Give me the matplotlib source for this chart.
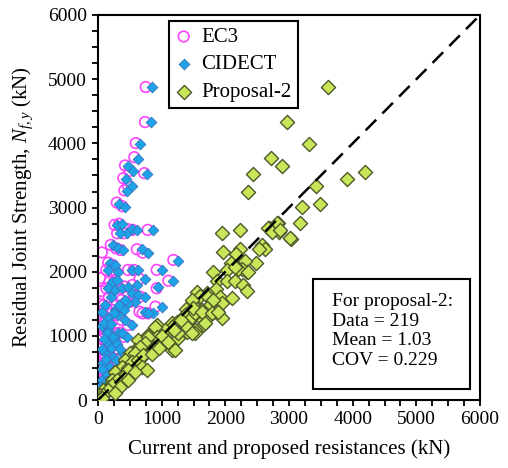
import numpy as np
import matplotlib
matplotlib.use("Agg")
import matplotlib.pyplot as plt
from matplotlib.ticker import MultipleLocator
from matplotlib.patches import Rectangle

plt.rcParams['font.family'] = ['Liberation Serif', 'DejaVu Serif']
plt.rcParams['mathtext.fontset'] = 'custom'
plt.rcParams['mathtext.rm'] = 'Liberation Serif'
plt.rcParams['mathtext.it'] = 'Liberation Serif:italic'

# (resistance, test strength) pairs in kN
cidect_pts = [
    (843, 4872), (832, 4326), (659, 3988), (633, 3760), (476, 3640), (545, 3562),
    (774, 3526), (440, 3442), (529, 3338), (450, 3260), (330, 3053), (424, 3016),
    (294, 2730), (372, 2746), (450, 2600), (346, 2600), (529, 2663), (608, 2652),
    (868, 2652), (240, 2418), (319, 2366), (397, 2340), (686, 2351), (790, 2298),
    (1261, 2168), (188, 2142), (267, 2106), (162, 2028), (319, 2002), (529, 2028),
    (633, 2028), (1000, 2028), (1182, 1860), (738, 1890), (215, 1846), (294, 1872),
    (162, 1742), (267, 1716), (372, 1742), (476, 1768), (608, 1794), (529, 1664),
    (633, 1638), (738, 1612), (947, 1768), (1000, 1456), (868, 1352), (738, 1378),
    (790, 1352), (581, 1534), (476, 1508), (267, 1404), (319, 1326), (424, 1248),
    (529, 1170), (162, 1274), (162, 1092), (319, 1040), (450, 988), (267, 936),
    (162, 884), (110, 728), (240, 676), (372, 728), (83, 572), (188, 520),
    (136, 390), (58, 312), (31, 208), (60, 1150), (100, 1200), (210, 1180),
    (140, 1050), (230, 980), (90, 950), (200, 820), (60, 800), (300, 880),
    (340, 800), (130, 640), (280, 620), (60, 480), (230, 460), (120, 300),
    (180, 330), (90, 180), (40, 120), (20, 60), (250, 1350), (380, 1050),
    (400, 1400), (110, 1480), (330, 1480), (60, 1380), (420, 1560), (200, 1600),
]
ec3_pts = [
    (749, 4878), (738, 4332), (592, 4004), (570, 3785), (424, 3656), (490, 3570),
    (727, 3536), (397, 3458), (470, 3340), (413, 3267), (294, 3078), (380, 3020),
    (260, 2730), (330, 2746), (400, 2600), (300, 2600), (470, 2663), (540, 2652),
    (780, 2652), (200, 2418), (280, 2366), (350, 2340), (610, 2351), (700, 2298),
    (1182, 2184), (160, 2142), (230, 2106), (130, 2028), (280, 2002), (470, 2028),
    (560, 2028), (921, 2030), (1104, 1860), (650, 1890), (180, 1846), (260, 1872),
    (130, 1742), (230, 1716), (330, 1742), (420, 1768), (540, 1794), (470, 1664),
    (560, 1638), (660, 1612), (921, 1742), (900, 1456), (780, 1352), (650, 1378),
    (700, 1352), (510, 1534), (420, 1508), (230, 1404), (280, 1326), (370, 1248),
    (470, 1170), (130, 1274), (130, 1092), (280, 1040), (400, 988), (230, 936),
    (130, 884), (90, 728), (200, 676), (330, 728), (60, 572), (160, 520),
    (110, 390), (40, 312), (20, 208), (40, 1150), (80, 1200), (180, 1180),
    (110, 1050), (200, 980), (70, 950), (170, 820), (40, 800), (260, 880),
    (300, 800), (110, 640), (240, 620), (40, 480), (200, 460), (100, 300),
    (150, 330), (70, 180), (25, 120), (10, 60), (210, 1350), (330, 1050),
    (350, 1400), (90, 1480), (290, 1480), (40, 1380), (370, 1560), (170, 1600),
    (20, 1000), (30, 650), (15, 400), (10, 250), (50, 1700), (25, 1500),
    (15, 850), (20, 1250), (10, 550), (5, 150), (30, 1900), (60, 2300),
]
prop2_pts = [
    (3615, 4872), (2962, 4332), (3318, 3989), (2721, 3771), (2884, 3646), (2428, 3515),
    (2360, 3250), (3904, 3448), (4187, 3557), (3428, 3343), (3198, 3016), (3485, 3053),
    (3171, 2761), (3030, 2507), (2820, 2756), (2690, 2678), (2842, 2626), (1942, 2605),
    (2229, 2652), (1968, 2304), (2229, 2356), (2167, 2278), (2570, 2418), (2622, 2356),
    (2532, 2356), (2480, 2132), (2308, 2173), (2088, 2132), (2020, 2028), (2334, 2001),
    (1800, 2001), (2260, 2050), (2674, 2678), (2805, 2756), (2727, 2626), (2857, 2652),
    (3014, 2522), (2203, 2039), (2360, 2001), (2151, 2080), (1863, 1851), (2020, 1851),
    (2151, 1851), (2281, 1794), (2334, 1705), (1848, 1732), (1707, 1674), (1550, 1690),
    (1601, 1622), (1732, 1612), (1915, 1602), (2099, 1586), (1942, 1508), (1810, 1560),
    (1863, 1393), (1707, 1430), (1523, 1455), (1382, 1415), (1496, 1300), (1601, 1300),
    (1732, 1300), (1942, 1274), (1392, 1274), (1653, 1170), (1392, 1118), (1523, 1092),
    (1167, 780), (921, 1170), (1157, 1196), (790, 1014), (1078, 1065), (1366, 1326),
    (1470, 1300), (1523, 1352), (1628, 1404), (1287, 1143), (1392, 1065), (1261, 962),
    (1523, 1040), (633, 936), (711, 831), (581, 780), (502, 728), (424, 624),
    (581, 598), (686, 676), (372, 520), (476, 494), (267, 442), (345, 338),
    (215, 312), (162, 208), (83, 156), (31, 78), (58, 52), (1471, 1560),
    (1496, 1430), (1628, 1378), (1785, 1352), (1889, 1378), (1680, 1196), (1235, 1222),
    (1392, 1143), (1471, 1040), (1157, 1143), (1209, 780), (1261, 1040), (1052, 1092),
    (895, 1143), (921, 988), (790, 988), (738, 884), (868, 806), (1000, 910),
    (659, 831), (581, 728), (529, 598), (633, 624), (711, 702), (476, 468),
    (397, 364), (294, 312), (215, 234), (162, 156), (83, 78), (58, 27),
    (686, 520), (764, 468), (581, 442), (476, 312), (345, 208), (267, 104),
    (1000, 1000), (1100, 900), (850, 720), (950, 820), (1300, 1250), (1200, 1100),
]

ec3_x, ec3_y = np.array(ec3_pts).T
cid_x, cid_y = np.array(cidect_pts).T
p2_x, p2_y = np.array(prop2_pts).T

fig = plt.figure(figsize=(5.08, 4.68), dpi=100)
ax = fig.add_axes([0.193, 0.145, 0.752, 0.823])

ax.scatter(ec3_x, ec3_y, s=58, marker='o', facecolors='none',
           edgecolors='#FF44FF', linewidths=1.2, label='EC3', zorder=2)
ax.scatter(cid_x, cid_y, s=30, marker='D', color='#1CA3E8',
           edgecolors='#3A74C0', linewidths=0.6, label='CIDECT', zorder=3)
ax.scatter(p2_x, p2_y, s=52, marker='D', color='#C8E65A',
           edgecolors='#4E5A2A', linewidths=1.0, label='Proposal-2', zorder=4)
ax.plot([0, 6000], [0, 6000], color='black', lw=1.8, ls=(0, (6, 3.5)), zorder=5)

ax.set_xlim(0, 6000)
ax.set_ylim(0, 6000)
ax.xaxis.set_major_locator(MultipleLocator(1000))
ax.yaxis.set_major_locator(MultipleLocator(1000))
ax.xaxis.set_minor_locator(MultipleLocator(250))
ax.yaxis.set_minor_locator(MultipleLocator(250))
ax.tick_params(which='both', direction='out', length=4.5, width=1.3, labelsize=14)
for sp in ax.spines.values():
    sp.set_linewidth(1.5)

ax.set_xlabel('Current and proposed resistances (kN)', fontsize=15, labelpad=8)
ax.set_ylabel('Residual Joint Strength, $N_{f,y}$ (kN)', fontsize=15, labelpad=9)

leg = ax.legend(loc='upper left', bbox_to_anchor=(0.186, 0.984), borderaxespad=0,
                fancybox=False, framealpha=1, edgecolor='black', fontsize=15,
                handlelength=0.8, handletextpad=0.45, labelspacing=0.38,
                borderpad=0.3, scatterpoints=1)
leg.get_frame().set_linewidth(1.5)

ax.add_patch(Rectangle((0.563, 0.029), 0.411, 0.285, transform=ax.transAxes,
                       fill=True, facecolor='white', edgecolor='black', lw=1.5, zorder=6))
ax.text(0.612, 0.278, 'For proposal-2:\nData = 219\nMean = 1.03\nCOV = 0.229',
        transform=ax.transAxes, ha='left', va='top', fontsize=14,
        linespacing=1.2, zorder=7)

fig.savefig('out.png', dpi=100)
